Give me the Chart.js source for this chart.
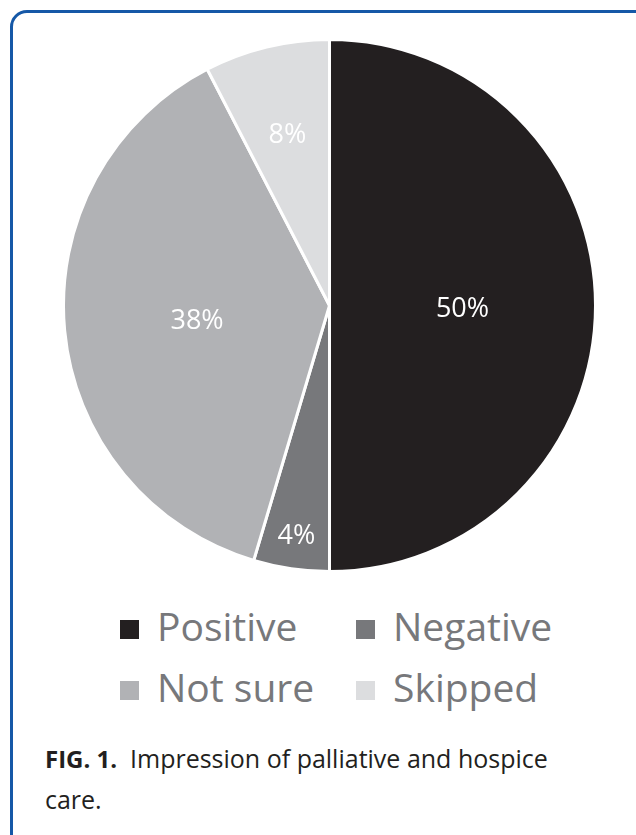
<!DOCTYPE html>
<html>
<head>
<meta charset="utf-8">
<script src="https://cdn.jsdelivr.net/npm/chart.js@4.4.1/dist/chart.umd.min.js"></script>
<style>
  html, body { margin: 0; padding: 0; background: #ffffff; }
  body { width: 636px; height: 835px; position: relative; overflow: hidden; font-family: "Open Sans", sans-serif; }
  #frame { position: absolute; left: 10px; top: 10px; width: 660px; height: 860px; border: 3px solid #1558a7; border-radius: 17px; box-sizing: border-box; }
  #pieWrap { position: absolute; left: 62px; top: 38px; width: 535px; height: 535px; }
  .lg { position: absolute; font-size: 39px; color: #77787b; line-height: 1; white-space: nowrap; }
  .sw { position: absolute; width: 19px; height: 19px; }
  #cap1, #cap2 { position: absolute; font-size: 25px; color: #231f20; white-space: nowrap; line-height: 1; }
  #cap1 b { font-weight: 700; font-size: 24px; }
</style>
</head>
<body>
<div id="frame"></div>
<div id="pieWrap"><canvas id="c" width="535" height="535"></canvas></div>
<div id="legend"></div>
<div id="cap1"><b>FIG. 1.</b><span id="capText" style="position:absolute;left:85px;top:0">Impression of palliative and hospice</span></div>
<div id="cap2">care.</div>
<script>
// ---- data ----
const categories = ["Positive", "Negative", "Not sure", "Skipped"];
// slice sizes
const values = [50.0, 4.6, 37.8, 7.6];
// percentages as printed on the figure
const valueLabels = ["50%", "4%", "38%", "8%"];
const colors = ["#231f20", "#77787b", "#b1b2b5", "#dcdddf"];
// label radial placement (fraction of radius), as in the original figure
const labelRadius = [0.50, 0.865, 0.50, 0.67];

const sliceLabels = {
  id: "sliceLabels",
  afterDatasetsDraw(chart) {
    const ctx = chart.ctx;
    const meta = chart.getDatasetMeta(0);
    ctx.save();
    ctx.font = "27px 'Open Sans'";
    ctx.fillStyle = "#ffffff";
    ctx.textAlign = "center";
    ctx.textBaseline = "alphabetic";
    meta.data.forEach((arc, i) => {
      const p = arc.getProps(["x", "y", "startAngle", "endAngle", "outerRadius"], true);
      const mid = (p.startAngle + p.endAngle) / 2;
      const r = p.outerRadius * labelRadius[i];
      const x = p.x + Math.cos(mid) * r;
      const y = p.y + Math.sin(mid) * r;
      ctx.fillText(valueLabels[i], x, y + 11);
    });
    ctx.restore();
  }
};

const chart = new Chart(document.getElementById("c"), {
  type: "pie",
  data: {
    labels: categories,
    datasets: [{
      data: values,
      backgroundColor: colors,
      borderColor: "#ffffff",
      borderWidth: 3,
      hoverOffset: 0
    }]
  },
  options: {
    responsive: false,
    animation: false,
    layout: { padding: 0 },
    plugins: { legend: { display: false }, tooltip: { enabled: false } }
  },
  plugins: [sliceLabels]
});

// ---- legend built from the chart data ----
const legend = document.getElementById("legend");
const cols = [120, 356];
const rowsTop = [620, 681];
chart.data.labels.forEach((lab, i) => {
  const col = cols[i % 2], row = rowsTop[Math.floor(i / 2)];
  const sw = document.createElement("div");
  sw.className = "sw";
  sw.style.left = col + "px";
  sw.style.top = row + "px";
  sw.style.background = chart.data.datasets[0].backgroundColor[i];
  legend.appendChild(sw);
  const t = document.createElement("div");
  t.className = "lg";
  t.textContent = lab;
  t.style.left = (col + 37) + "px";
  t.style.top = (row - 14) + "px";
  legend.appendChild(t);
});

const c1 = document.getElementById("cap1");
c1.style.left = "45px"; c1.style.top = "746px";
const c2 = document.getElementById("cap2");
c2.style.left = "45px"; c2.style.top = "787px";
</script>
</body>
</html>
